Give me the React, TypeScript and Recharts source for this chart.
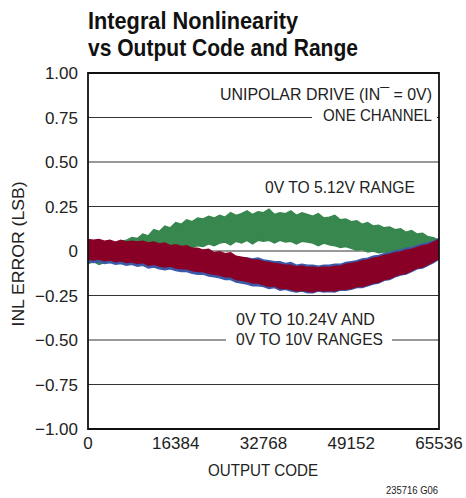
import React from "react";
import {
  ComposedChart,
  Area,
  XAxis,
  YAxis,
  CartesianGrid,
  ReferenceArea,
} from "recharts";

// ---- data ----
const codes = [
  0, 1024, 2048, 3072, 4096, 5120, 6144, 7168, 8192, 9216, 10240, 11264, 12288,
  13312, 14336, 15360, 16384, 17408, 18432, 19456, 20480, 21504, 22528, 23552,
  24576, 25600, 26624, 27648, 28672, 29696, 30720, 31744, 32768, 33792, 34816,
  35840, 36864, 37888, 38912, 39936, 40960, 41984, 43008, 44032, 45056, 46080,
  47104, 48128, 49152, 50176, 51200, 52224, 53248, 54272, 55296, 56320, 57344,
  58368, 59392, 60416, 61440, 62464, 63488, 64512, 65536,
];

// 0V to 5.12V range (green band)
const greenHigh = [
  0.05, 0.04, 0.055, 0.045, 0.05, 0.04, 0.055, 0.06, 0.075,
  0.07, 0.095, 0.085, 0.12, 0.11, 0.14, 0.13, 0.16,
  0.15, 0.175, 0.165, 0.185, 0.18, 0.195, 0.185, 0.2,
  0.19, 0.215, 0.2, 0.21, 0.225, 0.205, 0.22, 0.215,
  0.235, 0.205, 0.215, 0.21, 0.225, 0.2, 0.215, 0.205,
  0.195, 0.21, 0.185, 0.19, 0.2, 0.175, 0.18, 0.165,
  0.17, 0.15, 0.16, 0.14, 0.145, 0.13, 0.135, 0.12,
  0.125, 0.105, 0.115, 0.095, 0.1, 0.08, 0.075, 0.06,
];
const greenLow = [
  -0.07, -0.06, -0.075, -0.065, -0.065, -0.06, -0.055, -0.06, -0.05,
  -0.045, -0.04, -0.045, -0.03, -0.025, -0.02, -0.01, 0.0,
  0.01, 0.005, 0.02, 0.03, 0.025, 0.04, 0.03, 0.045,
  0.05, 0.035, 0.055, 0.045, 0.06, 0.04, 0.06, 0.055,
  0.06, 0.045, 0.06, 0.05, 0.055, 0.04, 0.055, 0.05,
  0.045, 0.03, 0.045, 0.035, 0.03, 0.02, 0.025, 0.015,
  0.005, 0.01, -0.005, 0.0, -0.01, -0.005, -0.015, -0.015,
  -0.01, -0.02, -0.01, -0.01, -0.005, -0.01, -0.005, 0.0,
];

// 0V to 10.24V range (blue band)
const blueHigh = [
  0.04, 0.035, 0.04, 0.035, 0.035, 0.03, 0.035, 0.03, 0.03,
  0.025, 0.03, 0.02, 0.025, 0.015, 0.02, 0.01, 0.01,
  0.005, 0.005, -0.005, -0.005, -0.01, -0.01, -0.02, -0.02,
  -0.025, -0.03, -0.035, -0.04, -0.04, -0.045, -0.04, -0.05,
  -0.055, -0.06, -0.06, -0.07, -0.065, -0.08, -0.075, -0.08,
  -0.08, -0.085, -0.08, -0.08, -0.075, -0.075, -0.065, -0.06,
  -0.055, -0.045, -0.04, -0.03, -0.025, -0.015, -0.01, 0.0,
  0.005, 0.015, 0.02, 0.03, 0.04, 0.045, 0.055, 0.07,
];
const blueLow = [
  -0.06, -0.065, -0.06, -0.07, -0.065, -0.075, -0.07, -0.08, -0.075,
  -0.085, -0.08, -0.095, -0.09, -0.1, -0.105, -0.1, -0.11,
  -0.115, -0.115, -0.125, -0.13, -0.13, -0.14, -0.145, -0.15,
  -0.16, -0.16, -0.175, -0.18, -0.185, -0.195, -0.195, -0.2,
  -0.21, -0.205, -0.22, -0.215, -0.225, -0.23, -0.225, -0.235,
  -0.235, -0.225, -0.23, -0.228, -0.23, -0.22, -0.22, -0.215,
  -0.205, -0.205, -0.195, -0.185, -0.18, -0.165, -0.16, -0.145,
  -0.135, -0.13, -0.115, -0.1, -0.095, -0.08, -0.065, -0.045,
];

// 0V to 10V range (red band)
const redHigh = [
  0.065, 0.06, 0.065, 0.055, 0.06, 0.05, 0.06, 0.05, 0.055,
  0.05, 0.055, 0.045, 0.05, 0.04, 0.045, 0.03, 0.035,
  0.025, 0.03, 0.015, 0.015, 0.005, 0.01, -0.01, -0.005,
  -0.015, -0.01, -0.03, -0.035, -0.04, -0.05, -0.05, -0.06,
  -0.065, -0.07, -0.075, -0.08, -0.08, -0.09, -0.085, -0.092,
  -0.09, -0.095, -0.09, -0.093, -0.085, -0.085, -0.075, -0.07,
  -0.065, -0.055, -0.05, -0.04, -0.035, -0.025, -0.02, -0.01,
  -0.005, 0.005, 0.01, 0.02, 0.03, 0.035, 0.05, 0.065,
];
const redLow = [
  -0.045, -0.05, -0.045, -0.055, -0.05, -0.06, -0.055, -0.065, -0.06,
  -0.07, -0.065, -0.08, -0.075, -0.085, -0.09, -0.085, -0.095,
  -0.1, -0.1, -0.11, -0.115, -0.115, -0.125, -0.13, -0.135,
  -0.145, -0.145, -0.16, -0.165, -0.17, -0.18, -0.18, -0.19,
  -0.2, -0.195, -0.21, -0.21, -0.215, -0.225, -0.22, -0.225,
  -0.23, -0.22, -0.225, -0.222, -0.225, -0.215, -0.215, -0.21,
  -0.2, -0.2, -0.19, -0.18, -0.175, -0.16, -0.155, -0.14,
  -0.13, -0.125, -0.11, -0.095, -0.09, -0.075, -0.06, -0.04,
];

const xTicks = [0, 16384, 32768, 49152, 65536];
const xTickLabels = ["0", "16384", "32768", "49152", "65536"];
const yTicks = [-1, -0.75, -0.5, -0.25, 0, 0.25, 0.5, 0.75, 1];
const yTickLabels = ["\u22121.00", "\u22120.75", "\u22120.50", "\u22120.25", "0", "0.25", "0.50", "0.75", "1.00"];

const data = codes.map((c, i) => ({
  code: c,
  green: [greenLow[i], greenHigh[i]],
  blue: [blueLow[i], blueHigh[i]],
  red: [redLow[i], redHigh[i]],
}));

const FONT = "'Liberation Sans Narrow', 'Arial Narrow', 'Liberation Sans', Arial, sans-serif";
const GREEN = "#37874f";
const BLUE = "#3b5aa8";
const RED = "#890027";

const XTick = (props: any) => {
  const idx = xTicks.indexOf(props.payload.value);
  return (
    <text x={props.x} y={props.y + 20} textAnchor="middle" fontFamily={FONT} fontSize={17} fill="#222">
      {xTickLabels[idx]}
    </text>
  );
};

const YTick = (props: any) => {
  const idx = yTicks.indexOf(props.payload.value);
  return (
    <text x={props.x} y={props.y + 6} textAnchor="end" fontFamily={FONT} fontSize={17} fill="#222">
      {yTickLabels[idx]}
    </text>
  );
};

export default function App() {
  return (
    <div style={{ position: "absolute", left: 0, top: 0, width: 466, height: 498, background: "#fff" }}>
      <ComposedChart
        width={466}
        height={498}
        data={data}
        margin={{ top: 73, right: 27, bottom: 0, left: 0 }}
      >
        <CartesianGrid vertical={false} stroke="#333" strokeWidth={1} />
        <XAxis
          dataKey="code"
          type="number"
          domain={[0, 65536]}
          ticks={xTicks}
          height={69}
          tickSize={0}
          tickMargin={0}
          axisLine={false}
          tickLine={false}
          tick={<XTick />}
          interval={0}
        />
        <YAxis
          type="number"
          domain={[-1, 1]}
          ticks={yTicks}
          width={88}
          tickSize={0}
          tickMargin={10}
          axisLine={false}
          tickLine={false}
          tick={<YTick />}
          interval={0}
        />
        <Area dataKey="green" type="linear" fill={GREEN} fillOpacity={1} stroke={GREEN} strokeWidth={1.5} isAnimationActive={false} dot={false} activeDot={false} />
        <Area dataKey="blue" type="linear" fill={BLUE} fillOpacity={1} stroke={BLUE} strokeWidth={1.5} isAnimationActive={false} dot={false} activeDot={false} />
        <Area dataKey="red" type="linear" fill={RED} fillOpacity={1} stroke={RED} strokeWidth={1.5} isAnimationActive={false} dot={false} activeDot={false} />
        <ReferenceArea x1={0} x2={65536} y1={-1} y2={1} fill="none" stroke="#111" strokeWidth={1.8} ifOverflow="extendDomain" />
      </ComposedChart>
      <svg
        width={466}
        height={498}
        style={{ position: "absolute", left: 0, top: 0, pointerEvents: "none" }}
      >
        <text x={88} y={29} fontFamily={FONT} fontWeight="bold" fontSize={24} fill="#111" textLength={210} lengthAdjust="spacingAndGlyphs">
          Integral Nonlinearity
        </text>
        <text x={88} y={56} fontFamily={FONT} fontWeight="bold" fontSize={24} fill="#111" textLength={270} lengthAdjust="spacingAndGlyphs">
          vs Output Code and Range
        </text>

        <rect x={312} y={112} width={125} height={11} fill="#fff" />
        <text x={220} y={100} fontFamily={FONT} fontSize={17} fill="#222" textLength={212} lengthAdjust="spacingAndGlyphs">
          {"UNIPOLAR DRIVE (IN\u00AF = 0V)"}
        </text>
        <text x={323} y={121} fontFamily={FONT} fontSize={17} fill="#222" textLength={109} lengthAdjust="spacingAndGlyphs">
          ONE CHANNEL
        </text>

        <text x={265} y={193} fontFamily={FONT} fontSize={17} fill="#222" textLength={150} lengthAdjust="spacingAndGlyphs">
          0V TO 5.12V RANGE
        </text>

        <rect x={226} y={335} width={166} height={11} fill="#fff" />
        <text x={236} y={325} fontFamily={FONT} fontSize={17} fill="#222" textLength={139} lengthAdjust="spacingAndGlyphs">
          0V TO 10.24V AND
        </text>
        <text x={236} y={345} fontFamily={FONT} fontSize={17} fill="#222" textLength={147} lengthAdjust="spacingAndGlyphs">
          0V TO 10V RANGES
        </text>

        <text
          x={0}
          y={0}
          transform="translate(24 254) rotate(-90)"
          textAnchor="middle"
          fontFamily={FONT}
          fontSize={17}
          fill="#222"
          textLength={145}
          lengthAdjust="spacingAndGlyphs"
        >
          INL ERROR (LSB)
        </text>
        <text x={263} y={476} textAnchor="middle" fontFamily={FONT} fontSize={17} fill="#222" textLength={110} lengthAdjust="spacingAndGlyphs">
          OUTPUT CODE
        </text>
        <text x={438} y={494} textAnchor="end" fontFamily={FONT} fontSize={10} fill="#222" textLength={52} lengthAdjust="spacingAndGlyphs">
          235716 G06
        </text>
      </svg>
    </div>
  );
}
